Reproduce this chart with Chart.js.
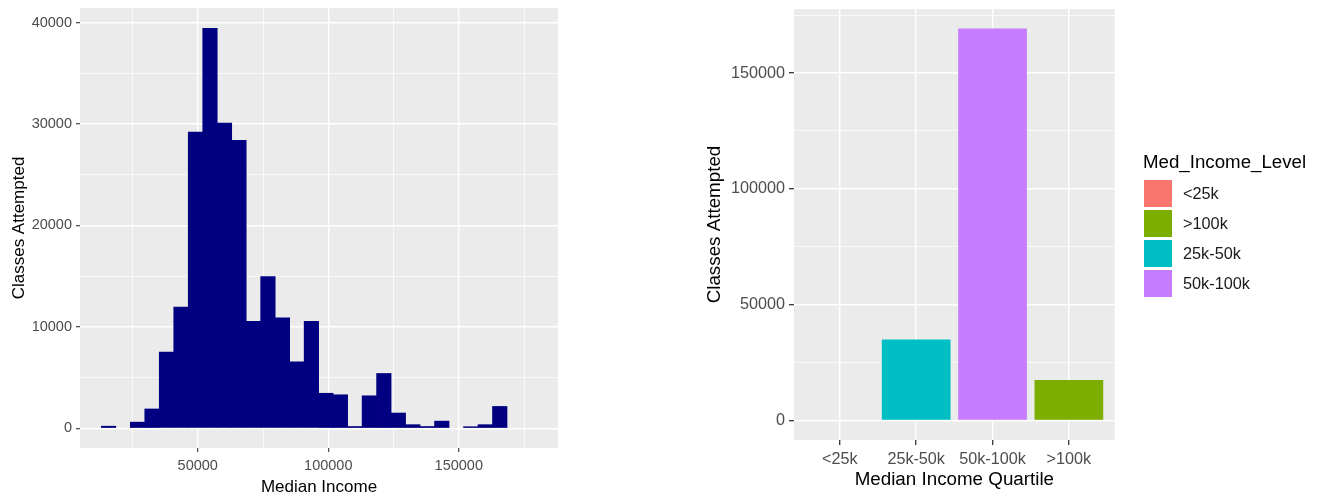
<!DOCTYPE html>
<html>
<head>
<meta charset="utf-8">
<script src="https://cdn.jsdelivr.net/npm/chart.js@4.4.0/dist/chart.umd.min.js"></script>
<style>
body { margin: 0; background: #fff; }
#wrap { position: relative; width: 1322px; height: 500px; font-family: "Liberation Sans", Arial, sans-serif; }
#histCanvas { position: absolute; left: 0; top: 0; }
#barCanvas { position: absolute; left: 680px; top: 0; }
#legend { position: absolute; left: 1143px; top: 151px; color: #000; }
#legend .ttl { font-size: 18.7px; line-height: 22px; height: 22px; white-space: nowrap; }
#legend .items { margin-top: 7px; }
#legend .item { display: flex; height: 27px; margin-bottom: 3px; }
#legend .box { width: 28px; height: 27px; margin-left: 1px; }
#legend .lbl { margin-left: 11px; font-size: 16.3px; line-height: 27px; color: #1a1a1a; }
</style>
</head>
<body>
<div id="wrap">
  <canvas id="histCanvas" width="600" height="500"></canvas>
  <canvas id="barCanvas" width="642" height="500"></canvas>
  <div id="legend"></div>
</div>
<script>
// histogram bins (median income), bin middles and counts
var binMid = [15840, 21390, 26940, 32490, 38040, 43590, 49140, 54690, 60240, 65790,
              71340, 76890, 82440, 87990, 93540, 99090, 104640, 110190, 115740, 121290,
              126840, 132390, 137940, 143490, 149040, 154590, 160140, 165690];
var binCount = [200, 0, 600, 1900, 7500, 11950, 29200, 39450, 30100, 28400,
                10550, 14950, 10900, 6550, 10550, 3450, 3300, 170, 3200, 5400,
                1500, 350, 170, 700, 0, 150, 350, 2150];
var histXTicks = [50000, 100000, 150000];
var histXMinor = [25000, 75000, 125000, 175000];
var histYTicks = [0, 10000, 20000, 30000, 40000];
var histYMinor = [5000, 15000, 25000, 35000];

// bar chart by quartile
var quartileLabels = ['<25k', '25k-50k', '50k-100k', '>100k'];
var quartileCounts = [0, 34900, 169200, 17500];
var quartileColors = ['#F8766D', '#00BFC4', '#C77CFF', '#7CAE00'];
var legendLabels = ['<25k', '>100k', '25k-50k', '50k-100k'];
var barYTicks = [0, 50000, 100000, 150000];
var barYMinor = [25000, 75000, 125000, 175000];

Chart.defaults.font.family = '"Liberation Sans", Arial, sans-serif';
Chart.defaults.animation = false;

const panelBg = {
    id: 'panelBg',
    beforeDraw(chart) {
        const { ctx, chartArea: a } = chart;
        ctx.save();
        ctx.fillStyle = '#EBEBEB';
        ctx.fillRect(a.left, a.top, a.right - a.left, a.bottom - a.top);
        ctx.restore();
    }
};

// major + minor breaks, ggplot style
function setTicks(major, minor) {
    return function(scale) {
        scale.ticks = major.concat(minor).sort((a, b) => a - b).map(v => ({ value: v }));
    };
}

// fixed axis size, no extra label padding around the panel
function fitSize(prop, size) {
    return function(s) {
        s[prop] = size;
        s.paddingTop = 0;
        s.paddingBottom = 0;
        s.paddingLeft = 0;
        s.paddingRight = 0;
    };
}

function gridOpts(major, tickW, tickL) {
    return {
        offset: false,
        color: '#FFFFFF',
        lineWidth: ctx => (ctx.tick && major.indexOf(ctx.tick.value) >= 0) ? 1.4 : 0.7,
        tickColor: ctx => (ctx.tick && major.indexOf(ctx.tick.value) >= 0) ? '#333333' : 'rgba(0,0,0,0)',
        tickWidth: tickW,
        tickLength: tickL
    };
}

// start::histogram
var histChart = new Chart(document.getElementById('histCanvas'), {
    type: 'bar',
    data: {
        datasets: [{
            data: binMid.map((m, i) => ({ x: m, y: binCount[i] })),
            backgroundColor: ctx => (ctx.raw && ctx.raw.y === 0) ? 'rgba(0,0,0,0)' : '#000080',
            borderWidth: 0,
            barPercentage: 1,
            categoryPercentage: 1
        }]
    },
    options: {
        responsive: false,
        devicePixelRatio: 1,
        layout: { padding: { top: 8, right: 42, left: 0, bottom: 0 } },
        plugins: { legend: { display: false }, tooltip: { enabled: false } },
        scales: {
            x: {
                type: 'linear',
                offset: false,
                min: 4900,
                max: 188000,
                afterBuildTicks: setTicks(histXTicks, histXMinor),
                afterFit: fitSize('height', 52),
                border: { display: false },
                grid: gridOpts(histXTicks, 1.1, 4),
                ticks: {
                    autoSkip: false,
                    maxRotation: 0,
                    padding: 5,
                    color: '#4D4D4D',
                    font: { size: 14.5 },
                    callback: v => histXTicks.indexOf(v) >= 0 ? String(v) : ''
                },
                title: {
                    display: true,
                    text: 'Median Income',
                    color: '#000',
                    font: { size: 17 },
                    padding: { top: 0, bottom: 2 }
                }
            },
            y: {
                min: -1950,
                max: 41450,
                afterBuildTicks: setTicks(histYTicks, histYMinor),
                afterFit: fitSize('width', 80),
                border: { display: false },
                grid: gridOpts(histYTicks, 1.1, 4),
                ticks: {
                    autoSkip: false,
                    padding: 4,
                    color: '#4D4D4D',
                    font: { size: 14.5 },
                    callback: v => histYTicks.indexOf(v) >= 0 ? String(v) : ''
                },
                title: {
                    display: true,
                    text: 'Classes Attempted',
                    color: '#000',
                    font: { size: 17 },
                    padding: { top: 9, bottom: 0 }
                }
            }
        }
    },
    plugins: [panelBg]
});
// end::histogram

// start::quartile bars
var barChart = new Chart(document.getElementById('barCanvas'), {
    type: 'bar',
    data: {
        datasets: [{
            data: quartileLabels.map((l, i) => ({ x: i + 1, y: quartileCounts[i] })),
            backgroundColor: quartileColors,
            borderWidth: 0,
            barPercentage: 0.9,
            categoryPercentage: 1
        }]
    },
    options: {
        responsive: false,
        devicePixelRatio: 1,
        layout: { padding: { top: 9, right: 207.3, left: 0, bottom: 0 } },
        plugins: { legend: { display: false }, tooltip: { enabled: false } },
        scales: {
            x: {
                type: 'linear',
                offset: false,
                min: 0.4,
                max: 4.6,
                afterBuildTicks: setTicks([1, 2, 3, 4], []),
                afterFit: fitSize('height', 60),
                border: { display: false },
                grid: gridOpts([1, 2, 3, 4], 1.3, 5),
                ticks: {
                    autoSkip: false,
                    maxRotation: 0,
                    padding: 5,
                    color: '#4D4D4D',
                    font: { size: 16.2 },
                    callback: v => quartileLabels[v - 1] || ''
                },
                title: {
                    display: true,
                    text: 'Median Income Quartile',
                    color: '#000',
                    font: { size: 18.8 },
                    padding: { top: 0, bottom: 9 }
                }
            },
            y: {
                min: -8460,
                max: 177660,
                afterBuildTicks: setTicks(barYTicks, barYMinor),
                afterFit: fitSize('width', 114),
                border: { display: false },
                grid: gridOpts(barYTicks, 1.3, 5),
                ticks: {
                    autoSkip: false,
                    padding: 4,
                    color: '#4D4D4D',
                    font: { size: 16.2 },
                    callback: v => barYTicks.indexOf(v) >= 0 ? String(v) : ''
                },
                title: {
                    display: true,
                    text: 'Classes Attempted',
                    color: '#000',
                    font: { size: 18.8 },
                    padding: { top: 24, bottom: 0 }
                }
            }
        }
    },
    plugins: [panelBg]
});
// end::quartile bars

// html legend (ggplot style, alphabetical order)
var legend = document.getElementById('legend');
var html = '<div class="ttl">Med_Income_Level</div><div class="items">';
legendLabels.forEach(function(name) {
    var c = quartileColors[quartileLabels.indexOf(name)];
    html += '<div class="item"><div class="box" style="background:' + c + '"></div><div class="lbl">' + name + '</div></div>';
});
html += '</div>';
legend.innerHTML = html;
</script>
</body>
</html>
